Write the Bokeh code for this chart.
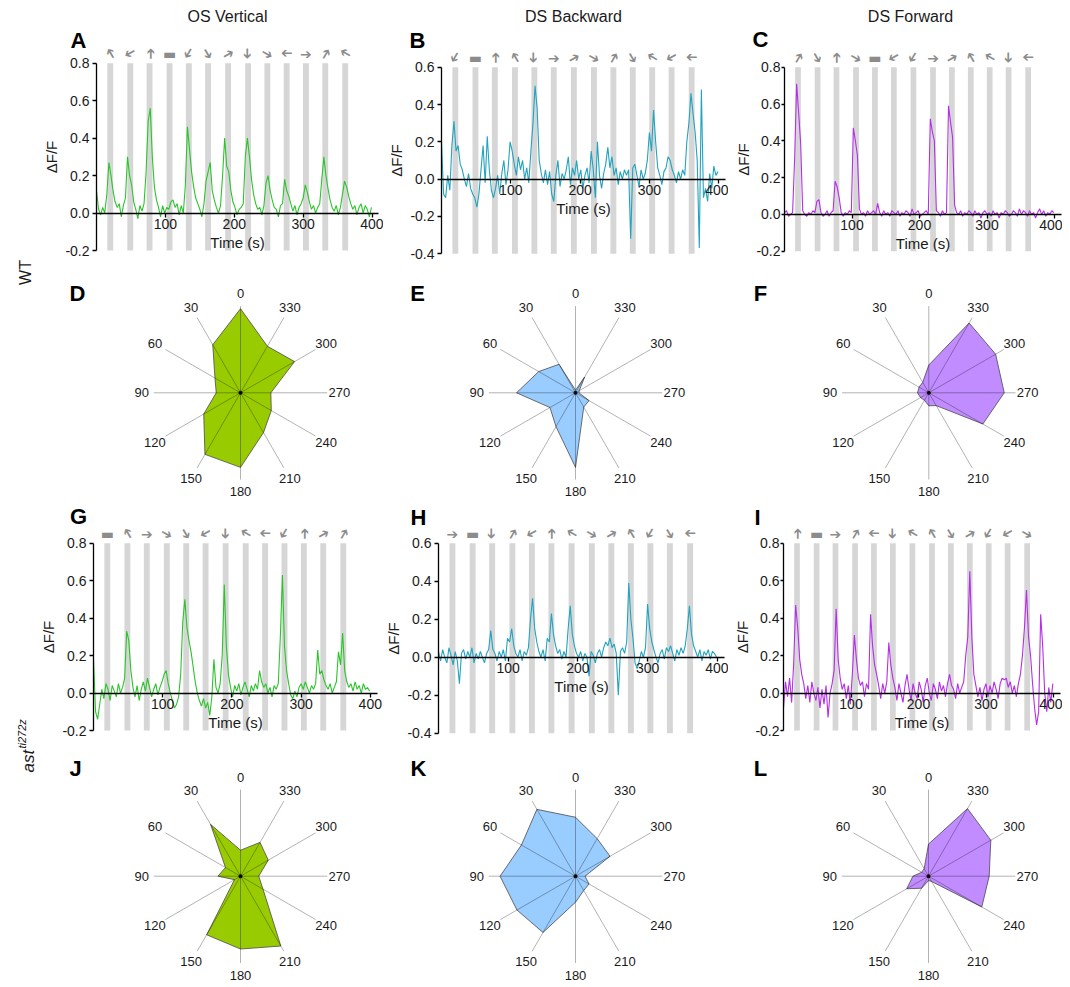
import math
from bokeh.plotting import figure
from bokeh.models import Range1d, FixedTicker, PrintfTickFormatter, Label, LinearAxis
from bokeh.layouts import row, column
from bokeh.core.properties import value
from bokeh.embed import file_html
from bokeh.resources import INLINE

FONT = "Liberation Sans"

# ---------------- data ----------------
headers = ["OS Vertical", "DS Backward", "DS Forward"]
row_labels = ["WT", "ast", "ti272z"]

stim_centers = [20, 49, 77, 106, 134, 162, 191, 220, 248, 276, 304, 332, 361]
stim_width = 8.5

# motion direction of each stimulus (degrees, 0 = up, counter-clockwise); None = stationary
dirs_A = [30, 120, 0, None, 150, 210, 300, 180, 240, 90, 270, 330, 60]
dirs_B = [150, None, 0, 30, 180, 270, 300, 240, 330, 210, 60, 120, 90]
dirs_C = [330, 210, 0, 240, None, 120, 150, 270, 300, 30, 60, 180, 90]
dirs_G = [None, 30, 270, 240, 210, 120, 180, 60, 90, 150, 0, 300, 330]
dirs_H = [270, None, 180, 330, 120, 0, 60, 240, 300, 30, 150, 210, 90]
dirs_I = [0, None, 270, 330, 90, 180, 60, 30, 210, 300, 150, 120, 240]

sample_step = 3  # seconds between samples

trace_A = [
    0.12, 0.02, -0.01, 0.03, 0.00, 0.10, 0.27, 0.20, 0.12, 0.06,
    0.03, 0.05, -0.02, 0.04, 0.08, 0.30, 0.20, 0.15, 0.06, 0.02,
    -0.03, 0.04, 0.01, 0.05, 0.22, 0.49, 0.56, 0.30, 0.14, 0.07,
    0.03, -0.02, 0.04, 0.00, 0.03, 0.02, 0.06, 0.07, 0.03, 0.05,
    -0.01, 0.04, 0.00, 0.15, 0.46, 0.34, 0.22, 0.14, 0.08, 0.05,
    0.02, -0.02, 0.05, 0.17, 0.22, 0.27, 0.12, 0.07, 0.03, 0.00,
    0.04, 0.20, 0.40, 0.25, 0.22, 0.12, 0.06, 0.03, -0.01, 0.02,
    0.03, 0.05, 0.30, 0.40, 0.30, 0.18, 0.10, 0.05, 0.02, 0.03,
    -0.01, 0.04, 0.16, 0.20, 0.12, 0.07, 0.03, 0.02, -0.02, 0.04,
    0.05, 0.18, 0.12, 0.09, 0.05, 0.01, 0.04, -0.01, 0.03, 0.05,
    0.08, 0.15, 0.11, 0.06, 0.02, 0.04, 0.00, 0.03, 0.05, 0.18,
    0.30, 0.20, 0.13, 0.07, 0.03, 0.01, 0.04, -0.01, 0.03, 0.10,
    0.17, 0.14, 0.09, 0.05, 0.02, 0.04, -0.01, 0.03, 0.05, 0.00,
    0.04, 0.02, -0.02, 0.03]

trace_B = [
    0.20, -0.08, -0.10, 0.02, -0.06, 0.18, 0.31, 0.15, 0.18, 0.08,
    0.05, 0.00, -0.04, 0.03, -0.05, -0.08, -0.10, -0.15, -0.08, 0.05,
    0.18, -0.02, 0.23, 0.05, -0.06, -0.10, -0.05, 0.02, -0.08, 0.03,
    0.10, -0.03, 0.05, 0.20, 0.15, 0.08, 0.02, 0.12, 0.05, 0.10,
    0.00, 0.06, -0.02, 0.15, 0.30, 0.50, 0.38, 0.10, 0.03, -0.02,
    0.05, -0.03, 0.04, -0.08, -0.12, 0.02, 0.10, -0.04, 0.03, 0.00,
    0.05, 0.12, -0.03, 0.06, 0.02, 0.10, 0.00, 0.05, -0.05, 0.02,
    0.06, -0.02, 0.15, 0.05, -0.10, 0.20, 0.02, -0.05, 0.03, 0.08,
    0.17, 0.06, 0.12, 0.02, 0.06, -0.03, 0.04, 0.00, 0.05, 0.02,
    0.05, -0.32, 0.06, 0.08, 0.02, -0.04, 0.05, 0.00, 0.03, 0.10,
    0.25, 0.15, 0.37, 0.20, 0.06, 0.02, -0.03, 0.04, 0.06, 0.12,
    0.10, 0.05, 0.02, -0.02, 0.04, 0.00, 0.05, 0.02, 0.20, 0.30,
    0.46, 0.35, 0.25, 0.10, -0.37, 0.48, -0.10, -0.05, -0.12, 0.03,
    -0.05, 0.07, 0.02, 0.04]

trace_C = [
    0.01, 0.02, -0.01, 0.00, 0.01, 0.30, 0.71, 0.55, 0.38, 0.02,
    0.00, -0.01, 0.01, 0.00, 0.02, 0.01, 0.07, 0.08, 0.01, -0.01,
    0.00, 0.02, -0.01, 0.01, 0.02, 0.18, 0.15, 0.09, 0.01, -0.01,
    0.01, 0.00, 0.02, 0.01, 0.47, 0.40, 0.32, 0.03, 0.00, 0.01,
    -0.01, 0.02, 0.00, 0.01, 0.02, 0.00, 0.06, 0.01, -0.01, 0.02,
    0.00, 0.01, -0.01, 0.02, 0.01, 0.00, 0.02, -0.01, 0.01, 0.00,
    0.02, 0.01, -0.01, 0.03, 0.00, 0.01, 0.02, -0.01, 0.00, 0.01,
    0.02, 0.00, 0.52, 0.45, 0.40, 0.02, 0.01, -0.01, 0.02, 0.00,
    0.01, 0.59, 0.50, 0.42, 0.05, 0.01, 0.00, 0.02, -0.01, 0.01,
    0.00, 0.02, 0.01, -0.01, 0.02, 0.00, 0.01, -0.02, 0.01, 0.02,
    0.00, 0.01, -0.01, 0.02, 0.00, 0.01, -0.02, 0.01, 0.00, 0.02,
    0.01, -0.01, 0.00, 0.02, 0.01, -0.01, 0.03, 0.00, 0.02, 0.01,
    -0.01, 0.02, 0.00, 0.01, -0.02, 0.01, 0.03, 0.00, 0.02, -0.01,
    0.01, 0.00, 0.02, 0.01]

trace_G = [
    0.18, -0.10, -0.14, -0.06, 0.02, -0.03, 0.05, 0.02, -0.04, 0.04,
    0.01, -0.02, 0.05, 0.00, 0.03, 0.08, 0.33, 0.28, 0.12, 0.03,
    -0.02, 0.04, -0.04, 0.02, 0.06, 0.01, 0.08, 0.03, -0.02, 0.02,
    0.05, -0.01, 0.03, 0.06, 0.10, 0.12, 0.05, 0.00, -0.04, -0.08,
    -0.06, -0.02, 0.10, 0.38, 0.50, 0.35, 0.28, 0.22, 0.14, 0.06,
    0.00, -0.04, -0.07, -0.03, -0.08, -0.05, -0.12, -0.02, 0.18, 0.03,
    0.00, 0.05, 0.20, 0.58, 0.25, 0.10, 0.03, -0.02, 0.04, 0.01,
    0.05, -0.01, 0.03, 0.06, 0.02, -0.02, 0.04, 0.01, 0.05, 0.02,
    0.12, 0.06, 0.03, 0.05, 0.00, 0.03, -0.02, 0.04, 0.02, 0.05,
    0.30, 0.63, 0.25, 0.12, 0.05, -0.01, -0.03, 0.01, -0.02, 0.03,
    0.05, 0.02, 0.06, 0.03, 0.00, 0.04, 0.02, 0.05, 0.23, 0.10,
    0.12, 0.07, 0.04, 0.02, 0.05, 0.00, 0.03, 0.06, 0.22, 0.15,
    0.32, 0.12, 0.06, 0.03, 0.05, 0.01, 0.06, 0.02, 0.04, 0.00,
    0.05, 0.02, 0.03, 0.01]

trace_H = [
    0.03, -0.02, 0.04, 0.00, -0.03, 0.05, 0.01, -0.04, 0.03, -0.02,
    -0.14, 0.02, 0.04, -0.01, 0.03, 0.00, 0.05, -0.03, 0.02, -0.01,
    0.03, 0.00, -0.03, 0.02, 0.04, 0.14, 0.04, 0.02, -0.02, 0.03,
    0.00, 0.04, -0.02, 0.10, 0.08, 0.15, 0.06, 0.02, 0.00, 0.04,
    -0.02, 0.03, 0.01, 0.05, 0.20, 0.31, 0.15, 0.08, 0.03, 0.00,
    0.04, -0.02, 0.10, 0.08, 0.23, 0.12, 0.06, 0.02, 0.04, -0.01,
    0.03, 0.00, 0.15, 0.27, 0.12, 0.06, 0.02, 0.00, 0.03, -0.02,
    0.02, 0.00, -0.10, 0.03, 0.01, -0.03, 0.02, 0.04, 0.00, 0.05,
    0.08, 0.06, 0.10, 0.05, 0.07, 0.02, -0.20, 0.03, 0.05, 0.02,
    0.08, 0.39, 0.20, 0.10, -0.03, -0.06, -0.02, 0.03, 0.00, 0.05,
    0.28, 0.15, 0.08, 0.04, 0.00, -0.03, 0.02, 0.04, -0.01, 0.05,
    0.03, 0.06, 0.02, -0.02, 0.04, 0.01, 0.05, 0.02, 0.06, 0.15,
    0.27, 0.12, 0.06, 0.03, 0.00, 0.04, -0.02, 0.03, 0.01, 0.04,
    -0.01, 0.03, 0.02, 0.00]

trace_I = [
    -0.08, 0.06, -0.02, 0.08, -0.05, 0.15, 0.47, 0.35, 0.18, 0.10,
    0.05, -0.03, 0.04, -0.05, 0.06, 0.00, -0.04, 0.03, -0.08, 0.02,
    -0.06, 0.04, -0.13, 0.00, 0.05, 0.12, 0.45, 0.18, 0.08, 0.02,
    0.05, -0.03, 0.04, -0.06, 0.10, 0.31, 0.18, 0.08, 0.04, 0.06,
    -0.02, 0.05, 0.02, 0.42, 0.25, 0.15, 0.10, 0.04, -0.03, 0.05,
    0.00, 0.06, 0.27, 0.15, 0.08, 0.03, -0.04, 0.05, 0.00, -0.05,
    0.04, 0.10, 0.02, -0.04, 0.05, 0.00, -0.03, 0.06, 0.02, -0.05,
    0.04, 0.08, 0.00, -0.04, 0.05, 0.02, -0.03, 0.06, 0.01, 0.04,
    -0.02, 0.05, 0.10, 0.04, 0.02, -0.03, 0.05, 0.00, 0.03, 0.06,
    0.20, 0.30, 0.65, 0.30, 0.10, 0.04, -0.02, 0.03, -0.04, 0.02,
    0.05, -0.02, 0.04, 0.00, 0.06, 0.02, -0.03, 0.05, 0.08, 0.07,
    0.08, 0.03, 0.06, 0.00, 0.04, -0.02, 0.05, 0.10, 0.20, 0.35,
    0.55, 0.30, 0.20, 0.05, -0.08, -0.17, -0.10, 0.42, 0.25, 0.00,
    -0.10, 0.03, -0.05, 0.05]

polar_angles = [0, 30, 60, 90, 120, 150, 180, 210, 240, 270, 300, 330]
polar_D = [0.97, 0.64, 0.34, 0.28, 0.49, 0.82, 0.86, 0.53, 0.41, 0.35, 0.72, 0.62]
polar_E = [0.03, 0.38, 0.49, 0.68, 0.34, 0.45, 0.86, 0.19, 0.18, 0.04, 0.05, 0.21]
polar_F = [0.32, 0.14, 0.13, 0.13, 0.11, 0.10, 0.15, 0.17, 0.72, 0.87, 0.89, 0.93]
polar_J = [0.30, 0.69, 0.20, 0.26, 0.08, 0.78, 0.84, 0.93, 0.30, 0.21, 0.37, 0.45]
polar_K = [0.68, 0.89, 0.72, 0.87, 0.78, 0.75, 0.30, 0.19, 0.18, 0.11, 0.46, 0.50]
polar_L = [0.37, 0.10, 0.09, 0.18, 0.29, 0.16, 0.05, 0.07, 0.71, 0.70, 0.83, 0.90]

# ---------------- layout geometry (page pixels) ----------------
STRIP_W = 40
COLS = [(40, 343), (383, 345), (728, 334)]
ROWS = [(0, 278), (278, 222), (500, 248), (748, 236)]
TOTAL_H = 984
# (spine x, px per second, y pixel of top tick, px per data unit)
GEOM = {
    "A": (96, 0.689, 62.7, 187.3), "B": (441, 0.693, 66.7, 186.5), "C": (784, 0.675, 66.7, 184.0),
    "G": (93, 0.692, 542.7, 187.3), "H": (438, 0.697, 542.7, 190.0), "I": (783, 0.675, 542.7, 187.3),
}
LETTER_POS = {"A": (78, 40), "B": (417, 40), "C": (760, 39), "G": (78, 516), "H": (418, 517),
              "I": (757, 517), "D": (77, 293), "E": (417, 293), "F": (760, 293),
              "J": (75, 768), "K": (418, 768), "L": (760, 768)}
HEADER_POS = [(227, 16), (573, 16), (910, 16)]
POLAR_C = {"D": (240, 392.3), "E": (575, 392.3), "F": (928.3, 392.3),
           "J": (240, 875.7), "K": (575, 875.7), "L": (928, 875.7)}
R_PX = 86.7

GREEN, TEAL, PURPLE = "#2bc52b", "#22a3bf", "#b52ee8"
FILL_G, FILL_B, FILL_P = "#99cc00", "#99ccff", "#c18cff"
BAR = "#d6d6d6"
TXT = "#1a1a1a"


def ts_panel(col, ri, trace, color, dirs, ylo, yhi, letter, header=None, tight=False):
    px0, w = COLS[col]
    py0, h = ROWS[ri]
    spine, sx, ty, sy = GEOM[letter]

    def dx(px):
        return (px - spine) / sx

    def dy(py):
        return yhi - (py - ty) / sy

    p = figure(width=w, height=h, x_range=Range1d(dx(px0), dx(px0 + w)),
               y_range=Range1d(dy(py0 + h), dy(py0)),
               output_backend="svg", toolbar_location=None, min_border=0,
               x_axis_location=None, y_axis_location=None, outline_line_color=None)
    p.grid.visible = False

    p.vbar(x=stim_centers, width=stim_width, bottom=ylo, top=yhi,
           fill_color=BAR, line_color=None)
    t = [sample_step * i for i in range(len(trace))]
    p.line(t, trace, line_color=color, line_width=1.1)

    texts, angs = [], []
    for d in dirs:
        if d is None:
            texts.append("\u25ac")
            angs.append(0.0)
        else:
            texts.append("\u2794")
            angs.append(math.radians(d + 90))
    p.text(x=stim_centers, y=[yhi + 9.5 / sy] * len(stim_centers), text=texts, angle=angs,
           text_align="center", text_baseline="middle", text_color="#8c8c8c",
           text_font=value("DejaVu Sans"), text_font_size="14px")

    xa = LinearAxis(fixed_location=0, bounds=(0, 410))
    xa.ticker = FixedTicker(ticks=[100, 200, 300, 400])
    xa.axis_label = "Time (s)"
    xa.axis_label_standoff = 1
    xa.major_label_standoff = 2
    xa.major_tick_out = 4
    xa.major_tick_in = 0
    xa.minor_tick_line_color = None
    xa.axis_line_width = 1.5

    ya = LinearAxis(fixed_location=0, bounds=(ylo, yhi))
    ya.ticker = FixedTicker(ticks=[round(ylo + 0.2 * i, 1) for i in range(6)])
    ya.formatter = PrintfTickFormatter(format="%.1f")
    ya.axis_label = "\u0394F/F"
    ya.axis_label_standoff = 1 if tight else 2
    ya.major_label_standoff = 1 if tight else 3
    ya.major_tick_out = 3 if tight else 4
    ya.major_tick_in = 0
    ya.minor_tick_line_color = None
    ya.axis_line_width = 1.3

    for ax in (xa, ya):
        ax.major_label_text_font = FONT
        ax.major_label_text_font_size = "14px"
        ax.major_label_text_color = TXT
        ax.axis_label_text_font = FONT
        ax.axis_label_text_font_size = "15px"
        ax.axis_label_text_font_style = "normal"
        ax.axis_label_text_color = TXT
        ax.major_tick_line_width = 1.3
    p.add_layout(xa, "below")
    p.add_layout(ya, "left")

    lx, ly = LETTER_POS[letter]
    p.add_layout(Label(x=dx(lx), y=dy(ly), text=letter,
                       text_font=FONT, text_font_size="22px", text_font_style="bold",
                       text_align="center", text_baseline="middle", text_color="black"))
    if header is not None:
        hx, hy = HEADER_POS[col]
        p.add_layout(Label(x=dx(hx), y=dy(hy), text=header,
                           text_font=FONT, text_font_size="16px",
                           text_align="center", text_baseline="middle", text_color=TXT))
    return p


def polar_panel(col, ri, vals, fill, letter):
    px0, w = COLS[col]
    py0, h = ROWS[ri]
    cx, cy = POLAR_C[letter]
    R = R_PX
    p = figure(width=w, height=h,
               x_range=Range1d(-(cx - px0) / R, (px0 + w - cx) / R),
               y_range=Range1d(-(py0 + h - cy) / R, (cy - py0) / R),
               output_backend="svg", toolbar_location=None, min_border=0,
               x_axis_location=None, y_axis_location=None, outline_line_color=None)
    p.grid.visible = False
    rad = [math.radians(a) for a in polar_angles]
    xs = [-v * math.sin(r) for v, r in zip(vals, rad)]
    ys = [v * math.cos(r) for v, r in zip(vals, rad)]
    p.patch(xs, ys, fill_color=fill, line_color="#4a4a4a", line_width=0.8)
    p.segment(x0=[0] * 12, y0=[0] * 12, x1=[-math.sin(r) for r in rad],
              y1=[math.cos(r) for r in rad], line_color="black", line_alpha=0.3, line_width=1)
    p.scatter([0], [0], size=3, color="black")
    lr = 1.14
    p.text(x=[-lr * math.sin(r) for r in rad], y=[lr * math.cos(r) for r in rad],
           text=[str(a) for a in polar_angles], text_align="center", text_baseline="middle",
           text_font=value(FONT), text_font_size="13px", text_color=TXT)
    lx, ly = LETTER_POS[letter]
    p.add_layout(Label(x=(lx - cx) / R, y=(cy - ly) / R, text=letter,
                       text_font=FONT, text_font_size="22px", text_font_style="bold",
                       text_align="center", text_baseline="middle", text_color="black"))
    return p


pA = ts_panel(0, 0, trace_A, GREEN, dirs_A, -0.2, 0.8, "A", headers[0])
pB = ts_panel(1, 0, trace_B, TEAL, dirs_B, -0.4, 0.6, "B", headers[1])
pC = ts_panel(2, 0, trace_C, PURPLE, dirs_C, -0.2, 0.8, "C", headers[2], tight=True)
pD = polar_panel(0, 1, polar_D, FILL_G, "D")
pE = polar_panel(1, 1, polar_E, FILL_B, "E")
pF = polar_panel(2, 1, polar_F, FILL_P, "F")
pG = ts_panel(0, 2, trace_G, GREEN, dirs_G, -0.2, 0.8, "G")
pH = ts_panel(1, 2, trace_H, TEAL, dirs_H, -0.4, 0.6, "H")
pI = ts_panel(2, 2, trace_I, PURPLE, dirs_I, -0.2, 0.8, "I", tight=True)
pJ = polar_panel(0, 3, polar_J, FILL_G, "J")
pK = polar_panel(1, 3, polar_K, FILL_B, "K")
pL = polar_panel(2, 3, polar_L, FILL_P, "L")

# row label strip on the far left (data y = TOTAL_H - page y)
lab = figure(width=STRIP_W, height=TOTAL_H, x_range=Range1d(0, STRIP_W), y_range=Range1d(0, TOTAL_H),
             output_backend="svg", toolbar_location=None, min_border=0,
             x_axis_location=None, y_axis_location=None, outline_line_color=None)
lab.grid.visible = False
lab.text(x=[25], y=[TOTAL_H - 272], text=[row_labels[0]], angle=math.pi / 2,
         text_align="center", text_baseline="middle", text_font=value(FONT),
         text_font_size="16px", text_color=TXT)
lab.text(x=[28], y=[TOTAL_H - 772], text=[row_labels[1]], angle=math.pi / 2,
         text_align="left", text_baseline="middle", text_font=value(FONT),
         text_font_size="17px", text_font_style="italic", text_color=TXT)
lab.text(x=[21], y=[TOTAL_H - 748], text=[row_labels[2]], angle=math.pi / 2,
         text_align="left", text_baseline="middle", text_font=value(FONT),
         text_font_size="11px", text_font_style="italic", text_color=TXT)

grid = column(row(pA, pB, pC), row(pD, pE, pF), row(pG, pH, pI), row(pJ, pK, pL))
layout = row(lab, grid)

open("out.html", "w").write(file_html(layout, INLINE))
